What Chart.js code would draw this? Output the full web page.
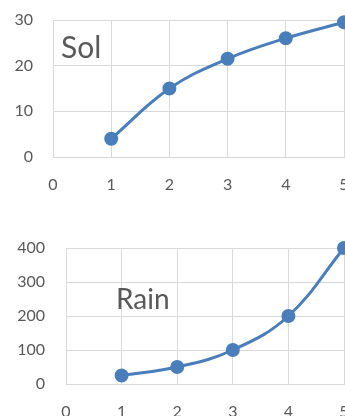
<!DOCTYPE html>
<html>
<head>
<meta charset="utf-8">
<script src="https://cdn.jsdelivr.net/npm/chart.js@4"></script>
<style>
  html, body { margin: 0; padding: 0; background: #fff; }
  body { width: 345px; height: 416px; overflow: hidden; position: relative; }
  .box { position: absolute; left: 0; }
  .box canvas { display: block; }
  .tag { position: absolute; font-family: Lato, "Open Sans", sans-serif; color: #595959; line-height: 1; white-space: nowrap; }
</style>
</head>
<body>
<div class="box" style="top:0;width:360px;height:200px"><canvas id="solChart" width="360" height="200"></canvas></div>
<div class="box" style="top:210px;width:360px;height:215px"><canvas id="rainChart" width="360" height="215"></canvas></div>
<div class="tag" style="left:61px;top:31px;font-size:30px">Sol</div>
<div class="tag" style="left:116px;top:284px;font-size:28px">Rain</div>
<script>
// x positions shared by both series
const xValues = [1, 2, 3, 4, 5];
// sunshine series
const solValues = [4, 15, 21.5, 26, 29.5];
// rainfall series
const rainValues = [25, 50, 100, 200, 400];
// axis ranges and tick steps
const xRange = [0, 5];
const solRange = [0, 30];
const rainRange = [0, 400];
const solStep = 10;
const rainStep = 100;

const lineColor = '#4a7ebb';
const gridColor = '#d9d9d9';
const tickColor = '#595959';
const tickFont = { family: 'Lato, "Open Sans", sans-serif', size: 16 };

function toPoints(ys) {
  return xValues.map((x, i) => ({ x: x, y: ys[i] }));
}

// yAxisWidth / xAxisHeight fix the plot box; label overhang is ignored so the
// layout padding alone decides where the plot area sits.
function makeChart(id, ys, yRange, yStep, yAxisWidth, yPad, xAxisHeight, pad) {
  return new Chart(document.getElementById(id), {
    type: 'scatter',
    data: {
      datasets: [{
        data: toPoints(ys),
        showLine: true,
        borderColor: lineColor,
        backgroundColor: lineColor,
        borderWidth: 3,
        pointRadius: 5.5,
        pointHoverRadius: 5.5,
        tension: 0.4,
        clip: false
      }]
    },
    options: {
      responsive: false,
      animation: false,
      layout: { padding: pad },
      plugins: { legend: { display: false }, tooltip: { enabled: false } },
      scales: {
        x: {
          type: 'linear',
          min: xRange[0], max: xRange[1],
          ticks: { stepSize: 1, color: tickColor, font: tickFont, padding: 18 },
          grid: { color: gridColor, lineWidth: 1, drawTicks: false },
          border: { color: gridColor, width: 1 },
          afterFit: (scale) => {
            scale.height = xAxisHeight;
            scale.paddingLeft = 0;
            scale.paddingRight = 0;
          }
        },
        y: {
          min: yRange[0], max: yRange[1],
          ticks: { stepSize: yStep, color: tickColor, font: tickFont, padding: yPad },
          grid: { color: gridColor, lineWidth: 1, drawTicks: false },
          border: { color: gridColor, width: 1 },
          afterFit: (scale) => {
            scale.width = yAxisWidth;
            scale.paddingTop = 0;
            scale.paddingBottom = 0;
          }
        }
      }
    }
  });
}

makeChart('solChart', solValues, solRange, solStep, 53, 20, 43, { top: 20, right: 16, bottom: 0, left: 0 });
makeChart('rainChart', rainValues, rainRange, rainStep, 66, 21, 41, { top: 38, right: 16, bottom: 0, left: 0 });
</script>
</body>
</html>
